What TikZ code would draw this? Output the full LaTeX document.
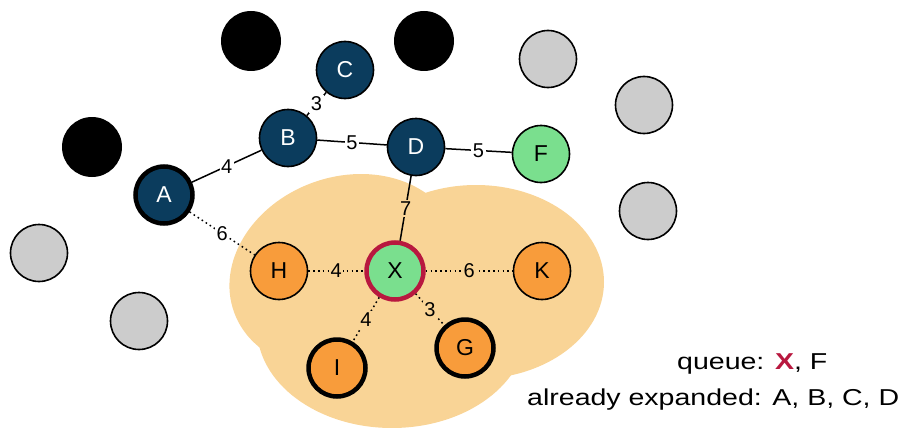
\documentclass[tikz,border=0pt]{standalone}
\usepackage{fontspec}
\setmainfont{Liberation Sans}
\newfontfamily\widesans[FakeStretch=1.24]{Liberation Sans}
\definecolor{navy}{HTML}{0B3C5D}
\definecolor{leaf}{HTML}{7ADF8E}
\definecolor{amber}{HTML}{F89C3B}
\definecolor{sand}{HTML}{F9D496}
\definecolor{crimson}{HTML}{B8183F}
\definecolor{ash}{HTML}{CCCCCC}
\tikzset{
  vtx/.style={circle, draw=black, line width=1.6pt, minimum size=57pt, inner sep=0pt,
    font=\fontsize{23}{27}\selectfont},
  done/.style={vtx, fill=navy, text=white},
  front/.style={vtx, fill=leaf},
  nbr/.style={vtx, fill=amber},
  unseen/.style={vtx, fill=ash},
  hidden/.style={vtx, fill=black, draw=none, minimum size=60pt},
  heavy/.style={line width=4.5pt},
  edge/.style={draw=black, line width=1.5pt},
  dotedge/.style={edge, dash pattern=on 1.6pt off 3.2pt},
  wt/.style={fill=white, inner sep=1.5pt, font=\fontsize{20}{24}\selectfont},
  wtin/.style={wt, fill=sand},
  caption/.style={anchor=base west, inner sep=0pt, font=\widesans\fontsize{23}{27}\selectfont}
}
\begin{document}
\begin{tikzpicture}[x=1pt, y=-1pt]
\useasboundingbox (0,0) rectangle (902,428);

% region around the current node
\fill[sand, rotate around={20:(345,272)}] (345,272) ellipse [x radius=118pt, y radius=95pt];
\fill[sand] (476,282) ellipse [x radius=128pt, y radius=97pt];
\fill[sand] (392,328) ellipse [x radius=135pt, y radius=100pt];

% nodes not yet reached
\node[hidden] (n1) at (251,41) {};
\node[hidden] (n2) at (424,41) {};
\node[hidden] (n3) at (92,147) {};
\node[unseen] (g1) at (548,59) {};
\node[unseen] (g2) at (644,105) {};
\node[unseen] (g3) at (648,211) {};
\node[unseen] (g4) at (39,253) {};
\node[unseen] (g5) at (139,321) {};

% expanded nodes
\node[done] (C) at (345,70) {C};
\node[done] (B) at (288,138) {B};
\node[done] (D) at (416,147) {D};
\node[done, heavy] (A) at (164,195) {A};

% queue
\node[front] (F) at (541,154) {F};
\node[front, draw=crimson, line width=4.5pt] (X) at (395,271) {X};

% neighbours of X
\node[nbr] (H) at (279,271) {H};
\node[nbr] (K) at (542,271) {K};
\node[nbr, heavy] (I) at (337,368) {I};
\node[nbr, heavy] (G) at (465,348) {G};

% edges
\draw[edge] (A) -- node[wt] {4} (B);
\draw[edge] (B) -- node[wt] {3} (C);
\draw[edge] (B) -- node[wt] {5} (D);
\draw[edge] (D) -- node[wt] {5} (F);
\draw[edge] (D) -- node[wtin] {7} (X);
\draw[dotedge] (A) -- node[wt] {6} (H);
\draw[dotedge] (H) -- node[wtin] {4} (X);
\draw[dotedge] (X) -- node[wtin] {6} (K);
\draw[dotedge] (X) -- node[wtin] {4} (I);
\draw[dotedge] (X) -- node[wtin] {3} (G);

% status text
\node[caption] (q) at (677,369) {queue: {\color{crimson}\bfseries X}, F};
\node[caption] (e) at (527,405) {already expanded: A, B, C, D};
\end{tikzpicture}
\end{document}
